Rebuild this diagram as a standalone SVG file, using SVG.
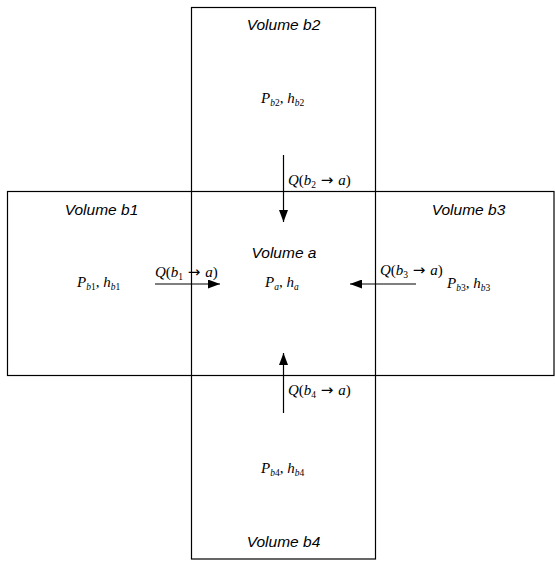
<svg xmlns="http://www.w3.org/2000/svg" width="555" height="561" viewBox="0 0 555 561">
<style>
.box{fill:none;stroke:#000;stroke-width:1.2}
.lbl{font-family:"Liberation Sans",Arial,sans-serif;font-style:italic;font-size:15.5px;fill:#000;text-anchor:middle}
.m{font-family:"Liberation Serif","Times New Roman",serif;font-size:15px;fill:#000}
.i{font-style:italic}
.s{font-size:9.5px}
.ar{font-family:"DejaVu Sans",sans-serif;font-size:15px}
.conn{stroke:#000;stroke-width:1.2;fill:none;marker-end:url(#ah)}
</style>
<defs>
<marker id="ah" markerUnits="userSpaceOnUse" markerWidth="12" markerHeight="9" refX="12" refY="4.5" orient="auto">
<path d="M0,0 L12,4.5 L0,9 z" fill="#000"/>
</marker>
</defs>
<rect width="555" height="561" fill="#fff"/>
<g id="frame">
<rect class="box" x="191.5" y="7.5" width="184" height="551.5"/>
<rect class="box" x="7.5" y="191.5" width="546.5" height="184"/>
</g>
<g id="volume-b2">
<text class="lbl" x="283.5" y="30">Volume b2</text>
<text class="m" x="261" y="103"><tspan class="i">P</tspan><tspan class="s" dy="3"><tspan class="i">b</tspan>2</tspan><tspan dy="-3">, </tspan><tspan class="i">h</tspan><tspan class="s" dy="3"><tspan class="i">b</tspan>2</tspan></text>
</g>
<g id="volume-b1">
<text class="lbl" x="101.5" y="215">Volume b1</text>
<text class="m" x="77" y="287"><tspan class="i">P</tspan><tspan class="s" dy="3"><tspan class="i">b</tspan>1</tspan><tspan dy="-3">, </tspan><tspan class="i">h</tspan><tspan class="s" dy="3"><tspan class="i">b</tspan>1</tspan></text>
</g>
<g id="volume-b3">
<text class="lbl" x="468.5" y="215">Volume b3</text>
<text class="m" x="447" y="288"><tspan class="i">P</tspan><tspan class="s" dy="3"><tspan class="i">b</tspan>3</tspan><tspan dy="-3">, </tspan><tspan class="i">h</tspan><tspan class="s" dy="3"><tspan class="i">b</tspan>3</tspan></text>
</g>
<g id="volume-b4">
<text class="lbl" x="283.5" y="547">Volume b4</text>
<text class="m" x="261" y="473"><tspan class="i">P</tspan><tspan class="s" dy="3"><tspan class="i">b</tspan>4</tspan><tspan dy="-3">, </tspan><tspan class="i">h</tspan><tspan class="s" dy="3"><tspan class="i">b</tspan>4</tspan></text>
</g>
<g id="volume-a">
<text class="lbl" x="284" y="258">Volume a</text>
<text class="m" x="265" y="287"><tspan class="i">P</tspan><tspan class="s i" dy="3">a</tspan><tspan dy="-3">, </tspan><tspan class="i">h</tspan><tspan class="s i" dy="3">a</tspan></text>
</g>
<g id="connectors">
<line class="conn" x1="283.5" y1="155" x2="283.5" y2="222"/>
<line class="conn" x1="283.5" y1="413" x2="283.5" y2="353"/>
<line class="conn" x1="155" y1="284" x2="220" y2="284"/>
<line class="conn" x1="416" y1="284" x2="350" y2="284"/>
<text class="m" x="288" y="185"><tspan class="i">Q</tspan>(<tspan class="i">b</tspan><tspan class="s" dy="3">2</tspan><tspan class="ar" dy="-3"> → </tspan><tspan class="i">a</tspan>)</text>
<text class="m" x="155" y="277"><tspan class="i">Q</tspan>(<tspan class="i">b</tspan><tspan class="s" dy="3">1</tspan><tspan class="ar" dy="-3"> → </tspan><tspan class="i">a</tspan>)</text>
<text class="m" x="380" y="275"><tspan class="i">Q</tspan>(<tspan class="i">b</tspan><tspan class="s" dy="3">3</tspan><tspan class="ar" dy="-3"> → </tspan><tspan class="i">a</tspan>)</text>
<text class="m" x="288" y="395"><tspan class="i">Q</tspan>(<tspan class="i">b</tspan><tspan class="s" dy="3">4</tspan><tspan class="ar" dy="-3"> → </tspan><tspan class="i">a</tspan>)</text>
</g>
</svg>
